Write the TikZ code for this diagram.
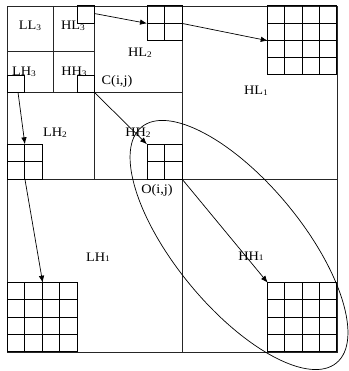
\documentclass[tikz,border=0pt]{standalone}
\usepackage{fontspec}
\setmainfont{Liberation Serif}[FakeStretch=1.1]
\usetikzlibrary{arrows.meta}

% grid of cells: x0, y0, x1, y1, list of inner line fractions
\newcommand\cellgrid[5]{%
  \draw[gridline] (#1,#2) rectangle (#3,#4);
  \foreach \f in {#5}{%
    \draw[gridline] ({#1+\f*(#3-#1)},#2) -- ({#1+\f*(#3-#1)},#4);
    \draw[gridline] (#1,{#2+\f*(#4-#2)}) -- (#3,{#2+\f*(#4-#2)});
  }%
}
\newcommand\band[2]{#1\raisebox{-0.4pt}{\fontsize{8.5}{8.5}\selectfont #2}}

\begin{document}
\begin{tikzpicture}[x=1pt,y=-1pt,
  frame/.style={line width=0.8pt,draw=black!85},
  gridline/.style={line width=1pt,draw=black},
  lbl/.style={anchor=base,inner sep=0pt,font=\fontsize{13}{15}\selectfont},
  link/.style={line width=0.7pt,-{Latex[length=7pt,width=5.5pt]}},
  zone/.style={line width=0.7pt}]
\useasboundingbox (0,0) rectangle (348,371);

% subband partition
\draw[frame] (7,6) rectangle (337,352);
\draw[frame] (182,6) -- (182,352);
\draw[frame] (7,179) -- (337,179);
\draw[frame] (94.3,6) -- (94.3,179);
\draw[frame] (7,92.3) -- (182,92.3);
\draw[frame] (53.3,6) -- (53.3,92.3);
\draw[frame] (7,51) -- (94.3,51);

% coefficient blocks
\cellgrid{77.5}{6}{94.3}{23.4}{}
\cellgrid{7}{75.3}{24.5}{92.3}{}
\cellgrid{77.5}{75.3}{94.3}{92.3}{}
\cellgrid{147}{6}{182}{40.8}{0.5}
\cellgrid{7}{144.3}{42.7}{179}{0.5}
\cellgrid{147}{144.3}{182}{179}{0.5}
\cellgrid{267.7}{6}{336.7}{75}{0.25,0.5,0.75}
\cellgrid{7}{282.7}{77.3}{351.7}{0.25,0.5,0.75}
\cellgrid{267.7}{282.7}{336.7}{351.7}{0.25,0.5,0.75}

% link end points
\coordinate (hl3) at (94.3,13.5);
\coordinate (hl2in) at (147,23.4);
\coordinate (hl2out) at (182,23.4);
\coordinate (hl1in) at (267.7,40.7);
\coordinate (lh3) at (18,92.3);
\coordinate (lh2in) at (24.9,144.3);
\coordinate (lh2out) at (24.9,179);
\coordinate (lh1in) at (42.7,282.7);
\coordinate (hh3) at (94.3,92.3);
\coordinate (hh2in) at (147,144.3);
\coordinate (hh2out) at (182,179);
\coordinate (hh1in) at (267.7,282.7);

% labels
\node[lbl] (LL3) at (30,30) {\band{LL}{3}};
\node[lbl] (HL3) at (73,30) {\band{HL}{3}};
\node[lbl] (LH3) at (24,76) {\band{LH}{3}};
\node[lbl] (HH3) at (74,76) {\band{HH}{3}};
\node[lbl] (HL2) at (140,57) {\band{HL}{2}};
\node[lbl] (C) at (117,85) {C(i,j)};
\node[lbl] (LH2) at (55,137) {\band{LH}{2}};
\node[lbl] (HH2) at (138,137) {\band{HH}{2}};
\node[lbl] (HL1) at (256,95) {\band{HL}{1}};
\node[lbl] (LH1) at (98,261) {\band{LH}{1}};
\node[lbl] (HH1) at (251,260) {\band{HH}{1}};
\node[lbl] (O) at (157,193) {O(i,j)};

% parent-child links
\draw[link] (hl3) -- (hl2in);
\draw[link] (hl2out) -- (hl1in);
\draw[link] (lh3) -- (lh2in);
\draw[link] (lh2out) -- (lh1in);
\draw[link] (hh3) -- (hh2in);
\draw[link] (hh2out) -- (hh1in);

% diagonal tree outline
\coordinate (ctr) at (239,245);
\draw[zone,rotate around={-50.4:(ctr)}] (ctr) ellipse [x radius=153pt, y radius=63pt];
\end{tikzpicture}
\end{document}
